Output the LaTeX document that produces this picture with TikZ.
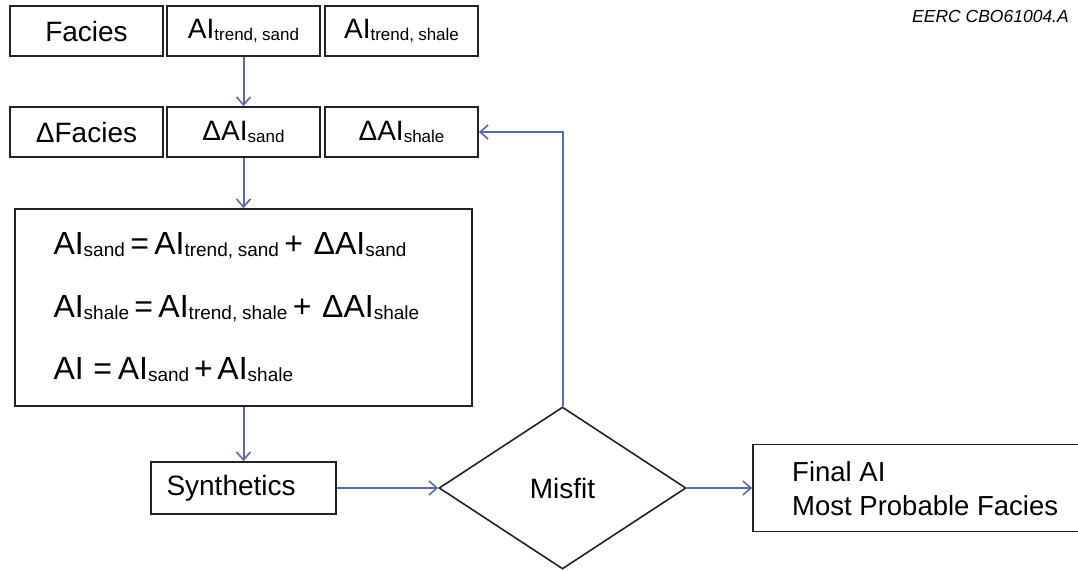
\documentclass[tikz,border=0pt]{standalone}
\usepackage{fontspec}
\setmainfont{Liberation Sans}
\usetikzlibrary{arrows.meta,shapes.geometric}
\definecolor{connblue}{RGB}{88,104,178}
\definecolor{boxline}{RGB}{35,35,35}
\newcommand\sbA[1]{\raisebox{-1.5pt}{\fontsize{17}{18}\selectfont #1}}
\newcommand\sbB[1]{\raisebox{-2pt}{\fontsize{19}{20}\selectfont #1}}
\newcommand\csp{\hspace{0.25em}}
\begin{document}
\begin{tikzpicture}[x=1pt,y=-1pt,
  box/.style={draw=boxline, line width=1.7pt, rectangle, inner sep=0pt, font=\fontsize{28}{32}\selectfont},
  smallbox/.style={box, minimum width=153pt, minimum height=50pt},
  arrowline/.style={draw=connblue, line width=2pt, -{Straight Barb[length=8pt,width=14pt,line width=1.6pt]}}]
\useasboundingbox (0,0) rectangle (1078,570);
\fill[white] (0,0) rectangle (1078,570);
% top row
\node[smallbox] (facies) at (86.5,31) {Facies};
\node[smallbox] (trsand) at (243.5,31) {AI\sbA{trend,\csp sand}};
\node[smallbox] (trshale) at (401.5,31) {AI\sbA{trend,\csp shale}};
% second row
\node[smallbox] (dfacies) at (86.5,132) {ΔFacies};
\node[smallbox] (dsand) at (243.5,132) {ΔAI\sbA{sand}};
\node[smallbox] (dshale) at (401.5,132) {ΔAI\sbA{shale}};
% equations
\node[box, minimum width=457pt, minimum height=197pt, text width=380pt, align=left,
      font=\fontsize{32}{62.5}\selectfont] (eq) at (243.5,307.5)
  {AI\sbB{sand}\,=\,AI\sbB{trend,\csp sand}\,+ ΔAI\sbB{sand}\\
   AI\sbB{shale}\,=\,AI\sbB{trend,\csp shale}\,+ ΔAI\sbB{shale}\\
   AI\hspace{0.3em}=\hspace{0.18em}AI\sbB{sand}\hspace{0.15em}+\hspace{0.15em}AI\sbB{shale}};
% synthetics
\node[box, minimum width=185pt, minimum height=52pt, text width=154pt, align=left] (syn) at (243.5,488) {Synthetics};
% misfit
\node[diamond, draw=boxline, line width=1.6pt, minimum width=247pt, minimum height=162pt, inner sep=0pt,
      font=\fontsize{28}{32}\selectfont] (misfit) at (562.5,488) {Misfit};
% final
\node[box, minimum width=337pt, minimum height=87pt] (final) at (921.5,488) {};
\node[anchor=west, align=left, inner sep=0pt, font=\fontsize{27.5}{34}\selectfont] (finaltxt) at (792,489) {Final AI\\Most Probable Facies};
% id
\node[anchor=base west, inner sep=0pt, font=\fontsize{17.5}{20}\selectfont\itshape] (idlabel) at (912,23) {EERC CBO61004.A};
% connectors
\draw[arrowline] (trsand) -- (dsand);
\draw[arrowline] (dsand) -- (eq);
\draw[arrowline] (eq) -- (syn);
\draw[arrowline] (syn) -- (misfit);
\draw[arrowline] (misfit) -- (final.west);
\draw[arrowline] (misfit.north) |- (dshale.east);
\end{tikzpicture}
\end{document}
